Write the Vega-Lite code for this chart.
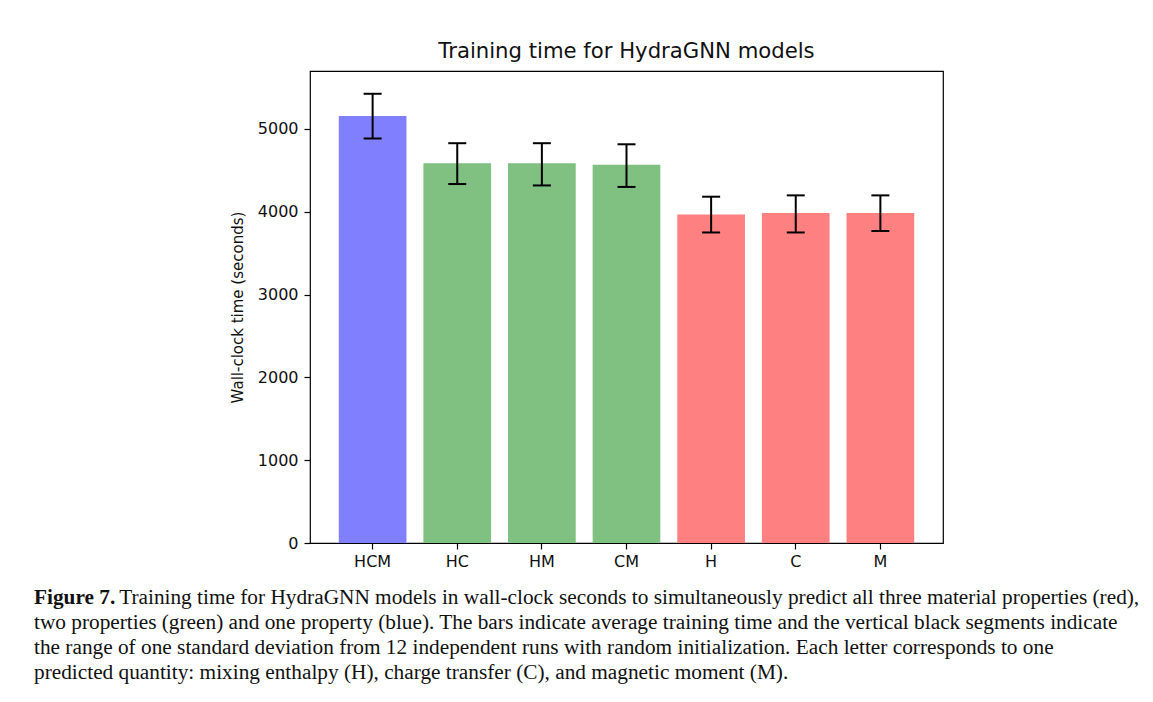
{
  "$schema": "https://vega.github.io/schema/vega-lite/v6.json",
  "background": "white",
  "padding": {"left": 34, "top": 40, "right": 5, "bottom": 5},
  "config": {
    "font": "DejaVu Sans",
    "view": {"stroke": "black", "strokeWidth": 1.2},
    "axis": {"domainColor": "black", "tickColor": "black", "labelColor": "#111", "titleColor": "#111", "labelFont": "DejaVu Sans", "titleFont": "DejaVu Sans", "grid": false, "tickSize": 6, "domainWidth": 1.2, "tickWidth": 1.2}
  },
  "title": {
    "text": "Figure 7.",
    "subtitle": [
      "\u200b\u00a0\u00a0\u00a0\u00a0\u00a0\u00a0\u00a0\u00a0\u00a0\u00a0\u00a0\u00a0\u00a0\u00a0\u00a0\u00a0Training time for HydraGNN models in wall-clock seconds to simultaneously predict all three material properties (red),",
      "two properties (green) and one property (blue). The bars indicate average training time and the vertical black segments indicate",
      "the range of one standard deviation from 12 independent runs with random initialization. Each letter corresponds to one",
      "predicted quantity: mixing enthalpy (H), charge transfer (C), and magnetic moment (M)."
    ],
    "orient": "bottom",
    "anchor": "start",
    "frame": "group",
    "font": "Liberation Serif",
    "fontSize": 21.3,
    "fontWeight": "bold",
    "color": "#111",
    "subtitleFont": "Liberation Serif",
    "subtitleFontSize": 21.3,
    "subtitleFontWeight": "normal",
    "subtitleColor": "#111",
    "subtitleLineHeight": 25,
    "subtitlePadding": -21.3,
    "offset": 17,
    "dx": -276
  },
  "vconcat": [
    {
      "width": 633,
      "height": 472,
      "title": {"text": "Training time for HydraGNN models", "fontSize": 21.2, "fontWeight": "normal", "font": "DejaVu Sans", "color": "#111", "offset": 9},
      "data": {
        "values": [
          {"model": "HCM", "group": "three", "mean": 5157, "lo": 4885, "hi": 5425},
          {"model": "HC", "group": "two", "mean": 4585, "lo": 4335, "hi": 4828},
          {"model": "HM", "group": "two", "mean": 4585, "lo": 4318, "hi": 4828},
          {"model": "CM", "group": "two", "mean": 4568, "lo": 4300, "hi": 4815},
          {"model": "H", "group": "one", "mean": 3968, "lo": 3750, "hi": 4182},
          {"model": "C", "group": "one", "mean": 3985, "lo": 3750, "hi": 4198},
          {"model": "M", "group": "one", "mean": 3985, "lo": 3768, "hi": 4198}
        ]
      },
      "encoding": {
        "x": {
          "field": "model",
          "type": "nominal",
          "sort": null,
          "scale": {"paddingInner": 0.2, "paddingOuter": 0.34},
          "axis": {"title": null, "labelAngle": 0, "labelFontSize": 16, "labelPadding": 4, "domain": false}
        }
      },
      "layer": [
        {
          "mark": {"type": "bar"},
          "encoding": {
            "y": {
              "field": "mean",
              "type": "quantitative",
              "scale": {"domain": [0, 5700], "nice": false},
              "axis": {"title": "Wall-clock time (seconds)", "values": [0, 1000, 2000, 3000, 4000, 5000], "format": "d", "labelFontSize": 16, "labelPadding": 6, "titleFontSize": 15, "titleFontWeight": "normal", "titlePadding": 12, "domain": false}
            },
            "color": {
              "field": "group",
              "type": "nominal",
              "scale": {"domain": ["three", "two", "one"], "range": ["#8080ff", "#80c080", "#ff8080"]},
              "legend": null
            }
          }
        },
        {
          "mark": {"type": "rule", "color": "black", "strokeWidth": 2},
          "encoding": {
            "y": {"field": "lo", "type": "quantitative"},
            "y2": {"field": "hi"}
          }
        },
        {
          "mark": {"type": "tick", "color": "black", "size": 18, "thickness": 2, "opacity": 1},
          "encoding": {"y": {"field": "lo", "type": "quantitative"}}
        },
        {
          "mark": {"type": "tick", "color": "black", "size": 18, "thickness": 2, "opacity": 1},
          "encoding": {"y": {"field": "hi", "type": "quantitative"}}
        }
      ]
    }
  ]
}
